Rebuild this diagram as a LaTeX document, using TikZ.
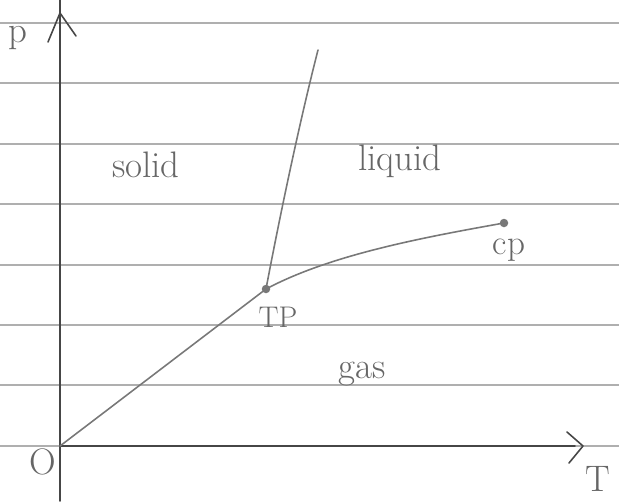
\documentclass[tikz,border=0pt]{standalone}
\usepackage{xcolor}
\definecolor{pencil}{RGB}{120,120,120}
\definecolor{pencildark}{RGB}{70,70,70}
\definecolor{ruling}{RGB}{175,175,175}
\usetikzlibrary{positioning}

\begin{document}
\begin{tikzpicture}[x=0.02cm, y=-0.02cm,
  ruled/.style={draw=ruling, line width=0.7pt},
  axisline/.style={draw=pencildark, line width=0.9pt, line cap=round, line join=round},
  phaseline/.style={draw=pencil, line width=0.9pt, line cap=round},
  phasetext/.style={font=\fontsize{21}{24}\selectfont, text=pencil!85!black},
  pointtext/.style={font=\fontsize{17}{20}\selectfont, text=pencil!85!black},
  phasepoint/.style={circle, fill=pencil, inner sep=0pt, minimum size=0.17cm}]
\useasboundingbox (0,0) rectangle (619,501);

% lined paper
\foreach \y in {23,83,144,204,265,325,385,446}
  \draw[ruled] (0,\y) -- (619,\y);

% axes
\coordinate (O) at (60,446);
\coordinate (ptip) at (60,13);
\coordinate (Ttip) at (583,446);
\draw[axisline] (60,501) -- (60,0);
\draw[axisline] (48,42) -- (ptip) -- (76,36);
\draw[axisline] (O) -- (575,446);
\draw[axisline] (567,432) -- (Ttip) -- (569,463);
\node[phasetext] (plabel) at (18,38) {p};
\node[phasetext] (olabel) at (43,462) {O};
\node[phasetext, inner sep=0pt] (Tlabel) at (598,479) {T};

% triple point and critical point
\node[phasepoint] (TP) at (266,289) {};
\node[phasepoint] (CP) at (504,223) {};
\coordinate (meltend) at (318,50);
\node[pointtext] (TPlabel) at (278,317) {TP};
\node[pointtext, font=\fontsize{20}{22}\selectfont] (CPlabel) at (509,250) {cp};

% phase boundaries
\draw[phaseline] (O) -- (TP.center);
\draw[phaseline] (TP.center) .. controls (280,215) and (300,120) .. (meltend);
\draw[phaseline] (TP.center) .. controls (330,255) and (420,238) .. (CP.center);

% regions
\node[phasetext] (solid) at (146,165) {solid};
\node[phasetext] (liquid) at (400,161) {liquid};
\node[phasetext] (gas) at (362,374) {gas};
\end{tikzpicture}
\end{document}
